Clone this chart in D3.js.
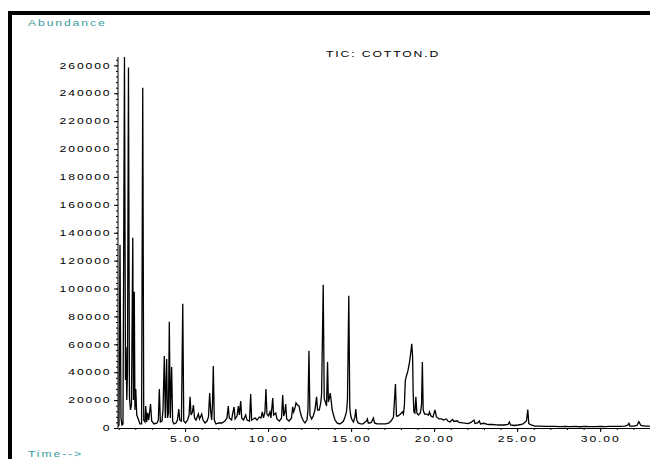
<!DOCTYPE html>
<html>
<head>
    <title>TIC: COTTON.D</title>
    <script src="https://d3js.org/d3.v7.min.js"></script>
    <style>
        body { margin: 0; background: #fff; }
        text { font-family: "Liberation Sans", Arial, sans-serif; }
    </style>
</head>
<body>
    <script>
        // retention time (min) and abundance
        const times = [0.96, 1.02, 1.08, 1.14, 1.20, 1.26, 1.35, 1.41, 1.44, 1.49, 1.53, 1.59, 1.65, 1.71, 1.77, 1.85, 1.89, 1.94, 1.98, 2.03,
            2.09, 2.16, 2.28, 2.38, 2.45, 2.51, 2.59, 2.63, 2.69, 2.75, 2.81, 2.92, 2.99, 3.13, 3.31, 3.39, 3.45, 3.51, 3.61, 3.67,
            3.75, 3.81, 3.89, 3.94, 4.00, 4.05, 4.11, 4.19, 4.25, 4.33, 4.45, 4.54, 4.62, 4.68, 4.78, 4.86, 4.92, 5.03, 5.15, 5.24,
            5.30, 5.36, 5.44, 5.50, 5.57, 5.66, 5.80, 5.87, 6.00, 6.08, 6.20, 6.32, 6.41, 6.48, 6.54, 6.60, 6.65, 6.70, 6.76, 6.86,
            7.04, 7.22, 7.40, 7.52, 7.60, 7.66, 7.80, 7.86, 7.95, 8.01, 8.13, 8.21, 8.27, 8.35, 8.41, 8.52, 8.65, 8.73, 8.88, 8.95,
            9.01, 9.12, 9.21, 9.33, 9.47, 9.57, 9.65, 9.72, 9.81, 9.87, 9.93, 10.02, 10.11, 10.17, 10.28, 10.33, 10.46, 10.53, 10.68, 10.81,
            10.88, 10.94, 11.01, 11.06, 11.12, 11.26, 11.41, 11.48, 11.54, 11.62, 11.68, 11.77, 11.86, 11.92, 12.02, 12.13, 12.22, 12.34, 12.40, 12.46,
            12.52, 12.62, 12.72, 12.82, 12.92, 12.98, 13.08, 13.16, 13.22, 13.32, 13.38, 13.45, 13.52, 13.58, 13.63, 13.69, 13.74, 13.80, 13.86, 13.94,
            14.03, 14.15, 14.30, 14.42, 14.54, 14.63, 14.72, 14.78, 14.86, 14.92, 14.98, 15.06, 15.14, 15.23, 15.28, 15.34, 15.42, 15.57, 15.72, 15.84,
            15.93, 15.98, 16.03, 16.14, 16.23, 16.34, 16.41, 16.56, 16.74, 16.92, 17.10, 17.28, 17.40, 17.49, 17.55, 17.67, 17.73, 17.82, 17.97, 18.09,
            18.15, 18.21, 18.26, 18.33, 18.42, 18.51, 18.60, 18.65, 18.70, 18.74, 18.78, 18.84, 18.90, 18.96, 19.05, 19.17, 19.24, 19.29, 19.34, 19.42,
            19.54, 19.66, 19.72, 19.81, 19.93, 20.05, 20.14, 20.29, 20.45, 20.56, 20.74, 20.83, 20.95, 21.11, 21.19, 21.39, 21.50, 21.74, 22.04, 22.22,
            22.40, 22.46, 22.61, 22.72, 22.79, 23.00, 23.25, 23.49, 23.73, 23.97, 24.21, 24.45, 24.53, 24.60, 24.81, 25.05, 25.23, 25.35, 25.56, 25.64,
            25.70, 25.84, 26.07, 26.38, 26.68, 26.98, 27.28, 27.58, 27.88, 28.18, 28.48, 28.79, 29.09, 29.39, 29.69, 29.99, 30.29, 30.59, 30.89, 31.19,
            31.49, 31.67, 31.73, 31.79, 32.03, 32.21, 32.33, 32.45, 32.69, 32.99];

        const abundance = [1400, 2150, 131400, 7200, 2150, 2870, 266000, 34500, 58000, 20000, 40000, 258500, 21500, 13000, 16500, 136400, 20000, 97600, 13000, 28000,
            9300, 7200, 2900, 2900, 244000, 5700, 4300, 15800, 4300, 10800, 5700, 17200, 5000, 2900, 3600, 5700, 28000, 4300, 5000, 12900,
            51700, 7200, 49500, 7200, 10800, 76100, 7200, 43800, 5000, 2900, 3600, 5700, 13600, 5700, 5000, 89000, 5000, 3600, 5700, 9300,
            22300, 9300, 11500, 16500, 7200, 5700, 10000, 6500, 10000, 5700, 3600, 5000, 7900, 25100, 12200, 5700, 16500, 44500, 5700, 2900,
            3600, 3600, 5000, 7200, 15800, 7200, 5700, 10000, 15100, 6500, 8600, 15800, 9300, 19400, 7200, 5700, 9300, 5700, 5000, 24400,
            5700, 6500, 7200, 5700, 7900, 7200, 11500, 7200, 11500, 28000, 10000, 8600, 11500, 7200, 21500, 9300, 10800, 6500, 5000, 7200,
            23700, 8600, 11500, 17200, 6500, 5000, 7200, 15100, 11500, 14400, 18000, 16500, 15800, 12200, 7900, 5000, 3600, 5700, 12900, 55300,
            9300, 6500, 8600, 12900, 22300, 12900, 12900, 17200, 23700, 102700, 20800, 18700, 15800, 47400, 18700, 21500, 25100, 19400, 12900, 9300,
            5700, 3600, 2900, 3600, 5000, 7900, 11500, 20100, 94800, 14400, 8600, 5700, 4300, 7900, 13600, 5700, 3600, 2900, 2900, 4300,
            5000, 6500, 3600, 3600, 4300, 7200, 3600, 2900, 2900, 2900, 2900, 3600, 5000, 6500, 7900, 31600, 8600, 8600, 10000, 11500,
            10000, 16500, 33700, 37300, 40900, 46700, 54600, 60300, 52400, 23700, 11500, 10800, 22300, 10800, 9300, 10800, 16500, 47400, 12900, 10000,
            10000, 9300, 11500, 8600, 7900, 13000, 7900, 6500, 6500, 5700, 6500, 5000, 4300, 6100, 4700, 5200, 4000, 3600, 3200, 4000,
            5700, 3200, 3600, 5000, 2900, 3400, 2500, 2500, 2300, 2150, 2150, 2500, 4300, 2150, 1800, 2150, 2500, 2900, 5000, 13300,
            3200, 2150, 1400, 1400, 1200, 1100, 1100, 1000, 1200, 1000, 1100, 900, 1100, 1000, 1000, 1150, 1000, 1150, 1100, 1200,
            1300, 2150, 3400, 1400, 1400, 1800, 4500, 1800, 1400, 1400];

        const xMajorTicks = [5, 10, 15, 20, 25, 30];
        const xMinorTicks = d3.range(1, 33);
        const yMajorTicks = d3.range(0, 260001, 20000);
        const yMinorTicks = d3.range(0, 264001, 4000);

        const width = 650, height = 459;
        const plot = {left: 118, right: 650, top: 57, bottom: 428};
        const stretch = 1.45;   // the plotter font is drawn wide

        const svg = d3.select("body").append("svg")
            .attr("width", width)
            .attr("height", height);

        svg.append("rect")
            .attr("width", width).attr("height", height)
            .attr("fill", "#fff");

        // frame
        svg.append("rect").attr("x", 8).attr("y", 11).attr("width", width - 8).attr("height", 4).attr("fill", "#000");
        svg.append("rect").attr("x", 8).attr("y", 11).attr("width", 4).attr("height", height - 11).attr("fill", "#000");

        const x = d3.scaleLinear()
            .domain([0.96, 33.0])
            .range([plot.left, plot.right]);

        const y = d3.scaleLinear()
            .domain([0, 266000])
            .range([plot.bottom, plot.top]);

        function wideText(sel, dx) {
            sel.attr("font-size", "8.4px")
                .attr("letter-spacing", "1.3px")
                .attr("fill", "#000")
                .attr("font-family", "'Liberation Sans', Arial, sans-serif");
            sel.each(function() {
                const t = d3.select(this);
                const xx = +t.attr("x") || 0;
                t.attr("x", (xx + (dx || 0)) / stretch)
                    .attr("transform", "scale(" + stretch + ",1)");
            });
        }

        // y axis
        svg.append("g")
            .attr("transform", "translate(" + plot.left + ",0)")
            .call(d3.axisLeft(y).tickValues(yMinorTicks).tickSize(2).tickFormat(""))
            .call(g => g.select(".domain").remove());

        const yAxis = svg.append("g")
            .attr("transform", "translate(" + plot.left + ",0)")
            .call(d3.axisLeft(y).tickValues(yMajorTicks).tickSize(4).tickSizeOuter(0).tickPadding(4).tickFormat(d3.format("d")));
        yAxis.select(".domain").attr("d", "M0," + plot.top + "V" + plot.bottom);
        yAxis.selectAll("text").call(wideText, 1.5);

        // x axis
        svg.append("g")
            .attr("transform", "translate(0," + plot.bottom + ")")
            .call(d3.axisBottom(x).tickValues(xMinorTicks).tickSize(2).tickFormat(""))
            .call(g => g.select(".domain").remove());

        const xAxis = svg.append("g")
            .attr("transform", "translate(0," + plot.bottom + ")")
            .call(d3.axisBottom(x).tickValues(xMajorTicks).tickSize(4).tickSizeOuter(0).tickPadding(4).tickFormat(d3.format(".2f")));
        xAxis.selectAll("text").call(wideText, 0);

        svg.selectAll(".tick line").attr("stroke", "#000");
        svg.selectAll(".domain").attr("stroke", "#000");

        // trace
        svg.append("clipPath").attr("id", "clip")
            .append("rect")
            .attr("x", plot.left).attr("y", plot.top - 2)
            .attr("width", plot.right - plot.left).attr("height", plot.bottom - plot.top + 2);

        const line = d3.line()
            .x((d, i) => x(times[i]))
            .y(d => y(d));

        svg.append("path")
            .datum(abundance)
            .attr("clip-path", "url(#clip)")
            .attr("fill", "none")
            .attr("stroke", "#000")
            .attr("stroke-width", 1.3)
            .attr("stroke-linejoin", "miter")
            .attr("d", line);

        // labels
        function label(txt, px, py, color) {
            svg.append("text")
                .attr("transform", "translate(" + px + "," + py + ") scale(" + stretch + ",1)")
                .attr("font-size", "8.4px")
                .attr("letter-spacing", "1.3px")
                .attr("fill", color)
                .text(txt);
        }

        label("Abundance", 28, 26, "#3a9c9c");
        label("Time-->", 28, 457, "#3a9c9c");
        label("TIC: COTTON.D", 326, 56.5, "#000");
    </script>
</body>
</html>
